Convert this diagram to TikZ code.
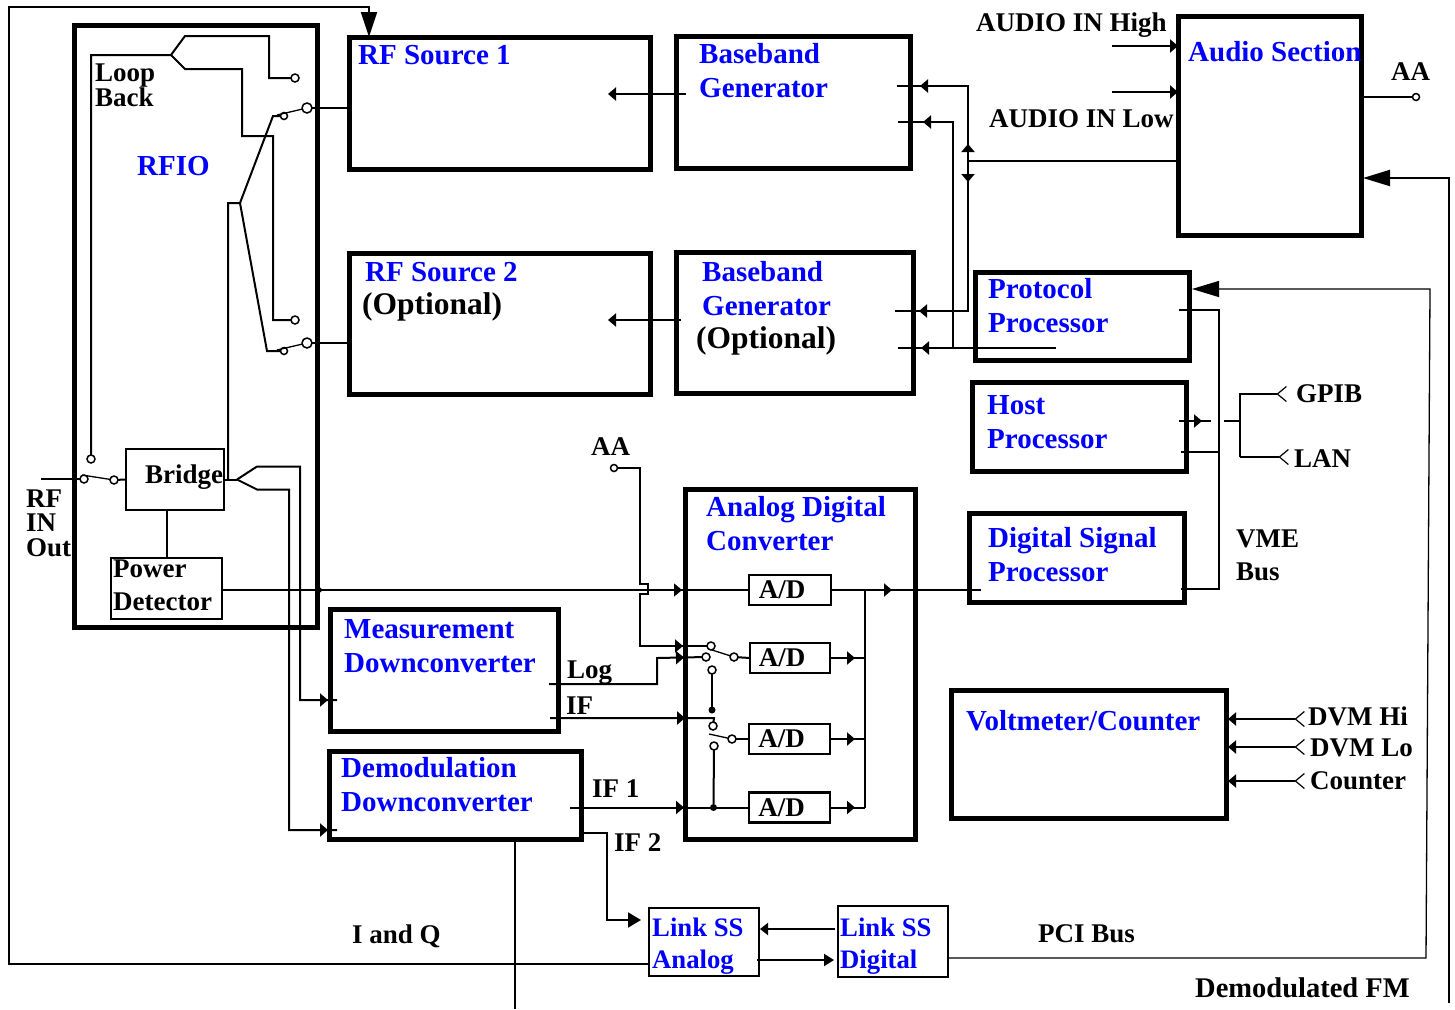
\documentclass[tikz,border=0pt]{standalone}
\usepackage{fontspec}
\setmainfont{Liberation Serif}
\usepackage{xcolor}
\usetikzlibrary{arrows.meta,decorations.markings}
\tikzset{
  bigbox/.style={draw,line width=5pt,inner sep=0pt,outer sep=0pt},
  thinbox/.style={draw,line width=2.5pt,inner sep=0pt,outer sep=0pt},
  boxsize/.style 2 args={minimum width=#1pt,minimum height=#2pt},
  bluetxt/.style={anchor=base west,inner sep=0pt,align=left,text=blue,font=\fontsize{29}{34}\selectfont\bfseries},
  blacktxt/.style={anchor=base west,inner sep=0pt,align=left,font=\fontsize{27}{33}\selectfont\bfseries},
  tighttxt/.style={blacktxt,font=\fontsize{27}{24.5}\selectfont\bfseries},
  opttxt/.style={blacktxt,font=\fontsize{31.5}{34}\selectfont\bfseries},
  linktxt/.style={bluetxt,font=\fontsize{26.7}{32}\selectfont\bfseries},
  adtxt/.style={font=\fontsize{27}{33}\selectfont\bfseries},
  contact/.style={draw,circle,line width=1.5pt,minimum size=8pt,inner sep=0pt,outer sep=0pt},
  dotnode/.style={fill,circle,minimum size=7pt,inner sep=0pt,outer sep=0pt},
  wire/.style={line width=2pt},
  thinwire/.style={line width=1.3pt},
  arr/.style={wire,-{Triangle[length=8pt,width=13pt]}},
  linkarr/.style={wire,-{Triangle[length=13pt,width=15pt]}},
  bigarr/.style={wire,-{Triangle[length=27pt,width=16pt]}},
  port/.style={wire,{Straight Barb[reversed,length=9pt,width=15pt,line width=1.2pt]}-},
  portarr/.style={wire,{Straight Barb[reversed,length=9pt,width=15pt,line width=1.2pt]}-{Triangle[length=8pt,width=13pt]}},
  tipat/.style={postaction={decorate,decoration={markings,mark=at position #1 with {\arrow{Triangle[length=8pt,width=13pt]}}}}},
}
\begin{document}
\begin{tikzpicture}[x=1pt,y=-1pt,>=Latex]
\useasboundingbox (0,0) rectangle (1455,1009);
% blocks
\node[bigbox,boxsize={243}{602}] (rfio) at (195.5,326) {};
\node[bigbox,boxsize={301}{132}] (srcone) at (499.5,103) {};
\node[bigbox,boxsize={234}{132}] (bbone) at (793,102) {};
\node[bigbox,boxsize={301}{141}] (srctwo) at (499.5,323.5) {};
\node[bigbox,boxsize={237}{141}] (bbtwo) at (794.5,322.5) {};
\node[bigbox,boxsize={183}{219}] (audio) at (1269.5,125.5) {};
\node[bigbox,boxsize={214}{88}] (proto) at (1082,316) {};
\node[bigbox,boxsize={214}{89}] (host) at (1079,426.5) {};
\node[bigbox,boxsize={215}{89}] (dsp) at (1076.5,557.5) {};
\node[bigbox,boxsize={230}{350}] (adc) at (800,664) {};
\node[bigbox,boxsize={228}{122}] (meas) at (444,670) {};
\node[bigbox,boxsize={252}{88}] (demod) at (455,795) {};
\node[bigbox,boxsize={275}{128}] (volt) at (1088.5,754) {};
\node[thinbox,boxsize={110}{68}] (linka) at (704,942) {};
\node[thinbox,boxsize={110}{71}] (linkd) at (893,941.5) {};
\node[thinbox,boxsize={98}{61}] (bridge) at (175,479.5) {};
\node[thinbox,boxsize={111}{61}] (power) at (166.5,588.5) {};
\node[thinbox,boxsize={82}{30},adtxt] (adone) at (790,590) {A/D\kern16pt\relax};
\node[thinbox,boxsize={80}{30},adtxt] (adtwo) at (790,658) {A/D\kern16pt\relax};
\node[thinbox,boxsize={81}{30},adtxt] (adthree) at (789.5,739) {A/D\kern16pt\relax};
\node[thinbox,boxsize={81}{30},adtxt] (adfour) at (789.5,807.5) {A/D\kern16pt\relax};
% labels
\node[bluetxt] (tsrcone) at (358,64) {RF Source 1};
\node[bluetxt] (tbbone) at (699,97) {Baseband\\Generator};
\node[bluetxt] (trfio) at (137,175) {RFIO};
\node[bluetxt] (tsrctwo) at (365,281) {RF Source 2};
\node[opttxt] (toptone) at (362,314) {(Optional)};
\node[bluetxt] (tbbtwo) at (702,315) {Baseband\\Generator};
\node[opttxt] (tfopttwo) at (696,348) {(Optional)};
\node[bluetxt] (taudio) at (1188,61) {Audio Section};
\node[bluetxt] (tproto) at (988,332) {Protocol\\Processor};
\node[bluetxt] (thost) at (987,448) {Host\\Processor};
\node[bluetxt] (tdsp) at (988,581) {Digital Signal\\Processor};
\node[bluetxt] (tadc) at (706,550) {Analog Digital\\Converter};
\node[bluetxt] (tmeas) at (344,672) {Measurement\\Downconverter};
\node[bluetxt] (tdemod) at (341,811) {Demodulation\\Downconverter};
\node[bluetxt] (tvolt) at (966,730) {Voltmeter/Counter};
\node[linktxt] (tlinka) at (652,968) {Link SS\\Analog};
\node[linktxt] (tlinkd) at (840,968) {Link SS\\Digital};
\node[tighttxt] (tloop) at (95,106) {Loop\\Back};
\node[tighttxt] (trf) at (26,556) {RF\\IN\\Out};
\node[blacktxt] (tbridge) at (145,483) {Bridge};
\node[blacktxt] (tpower) at (113,610) {Power\\Detector};
\node[blacktxt] (thigh) at (976,31) {AUDIO IN High};
\node[blacktxt] (tlow) at (989,127) {AUDIO IN Low};
\node[blacktxt] (taaout) at (1391,80) {AA};
\node[blacktxt] (taain) at (591,455) {AA};
\node[blacktxt] (tgpib) at (1296,402) {GPIB};
\node[blacktxt] (tlan) at (1294,467) {LAN};
\node[blacktxt] (tvme) at (1236,580) {VME\\Bus};
\node[blacktxt] (tlog) at (567,678) {Log};
\node[blacktxt] (tif) at (566,714) {IF};
\node[blacktxt] (tifone) at (592,797) {IF 1};
\node[blacktxt] (tiftwo) at (614,851) {IF 2};
\node[blacktxt] (tdvmhi) at (1308,725) {DVM Hi};
\node[blacktxt] (tdvmlo) at (1310,756) {DVM Lo};
\node[blacktxt] (tcounter) at (1310,789) {Counter};
\node[blacktxt] (tiq) at (352,943) {I and Q};
\node[blacktxt] (tpci) at (1038,942) {PCI Bus};
\node[blacktxt,font=\fontsize{28.5}{33}\selectfont\bfseries] (tfm) at (1195,997) {Demodulated FM};
% switch contacts
\node[contact] (cupa) at (295,78) {};
\node[contact,minimum size=7pt] (cupb) at (284,116) {};
\node[contact,minimum size=10pt] (cupc) at (307,108) {};
\node[contact] (cdowna) at (295,320) {};
\node[contact,minimum size=7pt] (cdownb) at (284,351) {};
\node[contact,minimum size=10pt] (cdownc) at (307,343) {};
\node[contact] (cloop) at (91,459) {};
\node[contact] (crfa) at (84,479) {};
\node[contact] (crfb) at (114,480) {};
\node[contact,minimum size=7pt] (caain) at (614,468) {};
\node[contact,minimum size=7pt] (caaout) at (1416,97) {};
\node[contact] (cmuxa) at (711,646) {};
\node[contact] (cmuxb) at (706,657) {};
\node[contact] (cmuxc) at (734,657) {};
\node[contact] (cmuxe) at (712,670) {};
\node[dotnode] (dotup) at (712,710) {};
\node[contact] (cmuxd) at (713,726) {};
\node[contact] (cmuxf) at (732,739) {};
\node[contact] (cmuxg) at (714,746) {};
\node[dotnode] (dotlow) at (713.5,807.5) {};
% junctions
\coordinate (jfork) at (171,55);
\coordinate (jrf) at (240,203);
\coordinate (jtap) at (228,479.5);
\coordinate (jbr) at (237,479.5);
\coordinate (jrfin) at (41,479);
\coordinate (jfb) at (649,964);
\coordinate (jsrcone) at (686,94);
\coordinate (jsrctwo) at (681,320);
\coordinate (jaudio) at (968,161);
\coordinate (jbbup) at (897,86);
\coordinate (jbbmid) at (898,122);
\coordinate (jbbtwo) at (895,311);
\coordinate (jbbthree) at (898,348);
\coordinate (jproto) at (1056,348);
\coordinate (jhigh) at (1112,46);
\coordinate (jlow) at (1112,92);
\coordinate (jbusa) at (865,590);
\coordinate (jbusb) at (865,807.5);
\coordinate (jdsp) at (981,590);
\coordinate (jlog) at (549,684);
\coordinate (jif) at (550,718);
\coordinate (jifone) at (570,807.5);
\coordinate (jiftwo) at (583,833);
\coordinate (jiq) at (515,839);
\coordinate (jpci) at (948,958);
\coordinate (jfm) at (1449,1003);
\coordinate (jvme) at (1219,310);
\coordinate (jgpib) at (1240,421);
% RFIO section
\draw[wire] (cloop) |- (jfork) -- ++(14,-19) -| (269,78) -- (cupa);
\draw[wire] (jfork) -- ++(14,14) -| (242,136) -| (273,320) -- (cdowna);
\draw[wire] (jtap) -- (228,203) -- (jrf) -- (273,116) -- (cupb);
\draw[wire] (jrf) -- (267,351) -- (cdownb);
\draw[thinwire] (277,115) -- (cupc);
\draw[thinwire] (277,350) -- (cdownc);
\draw[wire] (cupc) -- (srcone.west |- cupc);
\draw[wire] (cdownc) -- (srctwo.west |- cdownc);
\draw[wire] (jrfin) -- (crfa);
\draw[thinwire] (82,475) -- (crfb);
\draw[wire] (crfb) -- (bridge.west);
\draw[wire] (bridge.east) -- (jbr);
\draw[wire,tipat=-9pt] (jbr) -- ++(20,-13) -| (300,700) -- (337,700);
\draw[wire,tipat=-9pt] (jbr) -- ++(20,10) -| (289,830) -- (337,830);
\draw[wire] (power.north) -- (power.north |- bridge.south);
\draw[thinwire,tipat=101pt,tipat=460pt] (power.east |- adone.west) -- (adone.west);
% A/D section
\draw[wire] (caain) -- (640,468) -- (640,584) -- (648,584) -- (648,594) -- (640,594) -- (640,646) -- (cmuxa);
\draw[wire,tipat=-24pt] (640,646) -- (cmuxa);
\draw[wire,tipat=-18pt] (jlog) -- (657,684) -- (657,658) -- (cmuxb);
\draw[wire,tipat=-33pt] (jif) -- (714,718) -- (cmuxd);
\draw[wire,tipat=114pt] (jifone) -- (adfour.west);
\draw[thinwire] (712,650) -- (cmuxc);
\draw[wire] (cmuxc) -- (adtwo.west);
\draw[wire] (cmuxe) -- (dotup);
\draw[thinwire] (709,734) -- (cmuxf);
\draw[wire] (cmuxf) -- (adthree.west);
\draw[wire] (cmuxg) -- (dotlow);
\draw[wire,tipat=61pt] (adone.east) -- (jdsp);
\draw[wire,tipat=-10pt] (adtwo.east) -- (adtwo.east -| jbusa);
\draw[wire,tipat=-10pt] (adthree.east) -- (adthree.east -| jbusa);
\draw[wire,tipat=-10pt] (adfour.east) -- (jbusb);
\draw[wire] (jbusa) -- (jbusb);
% baseband and audio
\draw[arr] (jsrcone) -- (608,94);
\draw[arr] (jsrctwo) -- (608,320);
\draw[wire,tipat=17pt,tipat=-23pt] (jaudio) |- (jbbup);
\draw[wire,tipat=21pt,tipat=-24pt] (jaudio) |- (jbbtwo);
\draw[wire,tipat=-25pt] (953,348) |- (jbbmid);
\draw[wire,tipat=-23pt] (jproto) -- (jbbthree);
\draw[wire] (audio.west |- jaudio) -- (jaudio);
\draw[arr] (jhigh) -- (jhigh -| audio.west);
\draw[arr] (jlow) -- (jlow -| audio.west);
\draw[wire] (audio.east |- caaout) -- (caaout);
\draw[bigarr] (jfm) -- (jfm |- 0,178) -- (1363,178);
% processors and bus
\draw[thinwire,-{Triangle[length=27pt,width=16pt]}] (jpci) -- (1426,958) -- (1430,289) -- (1192,289);
\draw[wire] (1179,310) -- (jvme) -- (1219,589) -- (1181,589);
\draw[wire] (1181,452) -- (1219,452);
\draw[wire,tipat=23pt] (1179,421) -- (1211,421);
\draw[wire] (1224,421) -- (jgpib);
\draw[port] (1287,394) -| (1240,457);
\draw[port] (1289,457) -- (1240,457);
\draw[portarr] (1305,719) -- (1228,719);
\draw[portarr] (1305,747) -- (1228,747);
\draw[portarr] (1305,781) -- (1228,781);
% downconverters and links
\draw[linkarr] (jiftwo) -- (607,833) -- (607,920) -- (641,920);
\draw[wire] (jiq) -- (515,1009);
\draw[bigarr,-{Triangle[length=25pt,width=16pt]}] (jfb) -- (9,964) -- (9,7) -- (369,7) -- (369,37);
\draw[arr,-{Triangle[length=8pt,width=12pt]}] (835,929) -- (760,929);
\draw[arr,-{Triangle[length=10pt,width=12pt]}] (757,960) -- (834,960);
\end{tikzpicture}
\end{document}
